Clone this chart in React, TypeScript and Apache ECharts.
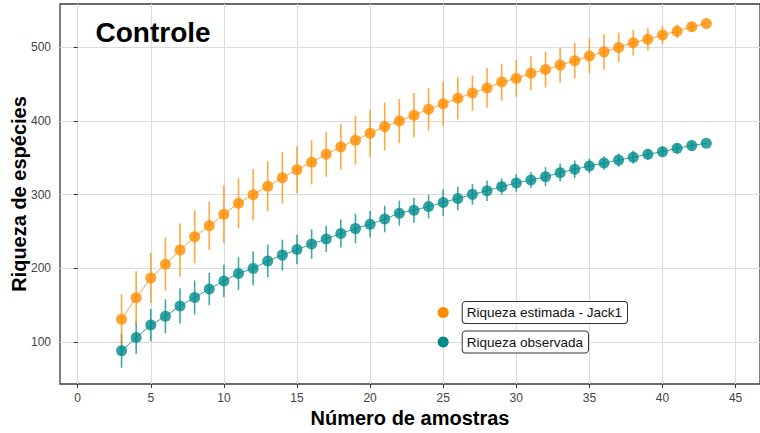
import React, { useEffect, useRef } from "react";
import * as echarts from "echarts";

// Number of samples (x axis)
const samples = [3, 4, 5, 6, 7, 8, 9, 10, 11, 12, 13, 14, 15, 16, 17, 18, 19, 20, 21, 22, 23, 24, 25, 26, 27, 28, 29, 30, 31, 32, 33, 34, 35, 36, 37, 38, 39, 40, 41, 42, 43];

// Estimated richness (Jack1) and its error
const jack1 = [131, 160, 187, 205.5, 225, 243, 258, 273.5, 288.5, 300, 311.5, 323, 334, 344, 355, 365, 374, 383.5, 392.5, 400, 408, 416, 423.5, 431, 438, 445, 453, 458, 465, 470, 476, 482, 488.5, 494, 500, 506.5, 511, 517, 522, 528, 532.5];
const jack1Err = [34, 36, 34, 36, 36, 36, 33, 39, 34, 35, 34, 35, 32, 30, 30.5, 31, 33, 32, 32.5, 30, 30, 29, 30, 29, 24, 27, 25, 25, 23, 24.5, 23.5, 24, 23.5, 24, 20, 17.5, 15, 12.5, 9, 6, 0];

// Observed richness and its error
const observed = [88, 106, 123, 135, 149, 160.5, 172, 183, 193, 200, 210, 218, 225.5, 233, 240, 247.5, 254, 260, 267, 275, 279, 284, 289.5, 295, 300.5, 305.5, 311, 316, 320, 324.5, 330, 334.5, 339, 343, 347, 351, 355, 358.5, 363, 366.7, 370];
const observedErr = [23, 22, 22, 23, 24, 23, 22, 22, 22, 23, 22, 21, 20, 20, 18, 19, 20, 18, 18, 17, 17, 16, 18, 16, 14, 14, 11, 12, 11, 13, 12, 12, 10, 9, 9, 9, 7, 7, 7, 5, 0];

// Axis ticks
const xTicks = [0, 5, 10, 15, 20, 25, 30, 35, 40, 45];
const yTicks = [100, 200, 300, 400, 500];

// In-plot legend (data coordinates)
const legendLabels = ["Riqueza estimada - Jack1", "Riqueza observada"];
const legendX = 25;
const legendY = [140, 100];

const titleText = "Controle";
const xName = "Número de amostras";
const yName = "Riqueza de espécies";

export default function App() {
  const ref = useRef<HTMLDivElement>(null);

  useEffect(() => {
    if (!ref.current) return;
    const chart = echarts.init(ref.current, null, { renderer: "svg" });
    const FONT = "'Liberation Sans', Arial, Helvetica, sans-serif";
    const ORANGE = "#FF8C00";
    const TEAL = "#008B8B";

    const toPts = (ys: number[]) => samples.map((x, i) => [x, ys[i]]);
    const toErr = (ys: number[], es: number[]) => samples.map((x, i) => [x, ys[i], es[i]]);

    const errSeries = (name: string, data: number[][], color: string) => ({
      type: "custom",
      name,
      data,
      encode: { x: 0, y: 1 },
      z: 2,
      silent: true,
      renderItem: (_params: any, api: any) => {
        const x = api.value(0);
        const y = api.value(1);
        const e = api.value(2);
        const a = api.coord([x, y - e]);
        const b = api.coord([x, y + e]);
        return {
          type: "line",
          shape: { x1: a[0], y1: a[1], x2: b[0], y2: b[1] },
          style: { stroke: color, lineWidth: 1.6, opacity: 0.75 },
        };
      },
    });

    const ptSeries = (name: string, data: number[][], color: string) => ({
      type: "line",
      name,
      data,
      z: 3,
      symbol: "circle",
      symbolSize: 11,
      showAllSymbol: true,
      itemStyle: { color, opacity: 0.8 },
      lineStyle: { color, width: 1, opacity: 0.8 },
      silent: true,
    });

    const legendSeries = (i: number, color: string) => ({
      type: "scatter",
      name: legendLabels[i],
      data: [[legendX, legendY[i]]],
      z: 5,
      symbol: "circle",
      symbolSize: 11,
      itemStyle: { color, opacity: 1 },
      silent: true,
      label: {
        show: true,
        position: "right",
        distance: 14,
        formatter: legendLabels[i],
        color: "#111",
        fontFamily: FONT,
        fontSize: 13.5,
        backgroundColor: "#fff",
        borderColor: "#333",
        borderWidth: 1,
        borderRadius: 3,
        padding: [4, 5, 3, 4],
      },
    });

    chart.setOption({
      animation: false,
      backgroundColor: "#fff",
      grid: {
        left: 60,
        right: 0,
        top: 4,
        bottom: 49,
        outerBoundsMode: "none",
        containLabel: false,
        show: true,
        borderColor: "#3a3a3a",
        borderWidth: 1.3,
        backgroundColor: "transparent",
      },
      xAxis: {
        type: "value",
        min: -1.21,
        max: 46.67,
        splitNumber: 10,
        minInterval: 5,
        maxInterval: 5,
        name: xName,
        nameLocation: "middle",
        nameGap: 24,
        nameMoveOverlap: false,
        nameTextStyle: { fontFamily: FONT, fontSize: 20, fontWeight: "bold", color: "#000" },
        axisLine: { show: false },
        axisTick: { show: true, length: 4, customValues: xTicks, lineStyle: { color: "#333" } },
        axisLabel: {
          customValues: xTicks,
          margin: 8,
          fontFamily: FONT,
          fontSize: 12,
          color: "#444",
        },
        splitLine: { show: true, lineStyle: { color: "#dcdcdc", width: 1 } },
      },
      yAxis: {
        type: "value",
        min: 43,
        max: 559,
        splitNumber: 5,
        minInterval: 100,
        maxInterval: 100,
        name: yName,
        nameLocation: "middle",
        nameGap: 31,
        nameMoveOverlap: false,
        nameTextStyle: { fontFamily: FONT, fontSize: 20, fontWeight: "bold", color: "#000" },
        axisLine: { show: false },
        axisTick: { show: true, length: 4, customValues: yTicks, lineStyle: { color: "#333" } },
        axisLabel: {
          customValues: yTicks,
          margin: 9,
          fontFamily: FONT,
          fontSize: 12,
          color: "#444",
        },
        splitLine: { show: true, lineStyle: { color: "#dcdcdc", width: 1 } },
      },
      graphic: [
        {
          type: "text",
          x: 95.5,
          y: 32.7,
          z: 10,
          style: {
            text: titleText,
            fill: "#000",
            fontFamily: FONT,
            fontSize: 28,
            fontWeight: "bold",
            verticalAlign: "middle",
          },
        },
      ],
      series: [
        errSeries("err-obs", toErr(observed, observedErr), TEAL),
        errSeries("err-jack1", toErr(jack1, jack1Err), ORANGE),
        ptSeries("Riqueza observada", toPts(observed), TEAL),
        ptSeries("Riqueza estimada - Jack1", toPts(jack1), ORANGE),
        legendSeries(0, ORANGE),
        legendSeries(1, TEAL),
      ],
    });

    return () => chart.dispose();
  }, []);

  return (
    <div
      ref={ref}
      style={{ position: "absolute", left: 0, top: 0, width: 760, height: 433 }}
    />
  );
}
